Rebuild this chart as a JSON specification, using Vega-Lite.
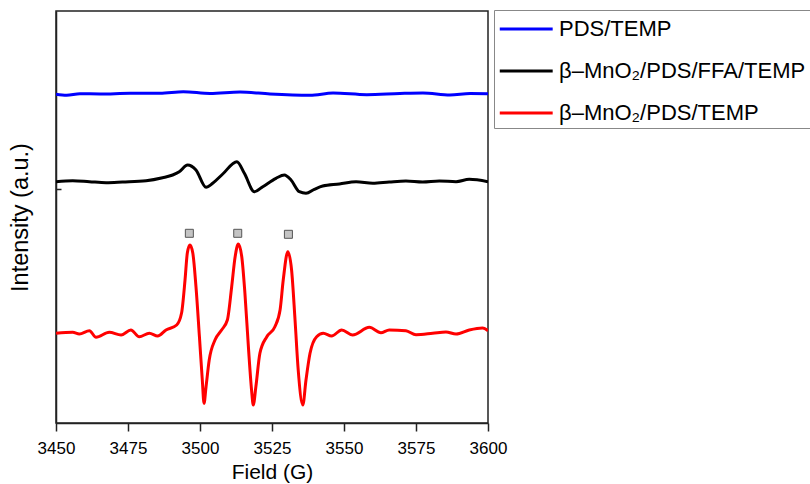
{
  "$schema": "https://vega.github.io/schema/vega-lite/v6.json",
  "width": 432,
  "height": 412,
  "autosize": {"type": "none"},
  "padding": {"left": 56, "top": 11, "right": 322, "bottom": 61},
  "background": "white",
  "config": {
    "view": {"stroke": "#222", "strokeWidth": 1.5},
    "font": "Liberation Sans"
  },
  "datasets": {
    "lines": [
      {"s": "PDS/TEMP", "x": 3450.0, "y": 328.7},
      {"s": "PDS/TEMP", "x": 3453.7, "y": 327.7},
      {"s": "PDS/TEMP", "x": 3458.3, "y": 329.3},
      {"s": "PDS/TEMP", "x": 3465.3, "y": 329.0},
      {"s": "PDS/TEMP", "x": 3475.7, "y": 329.7},
      {"s": "PDS/TEMP", "x": 3486.1, "y": 329.7},
      {"s": "PDS/TEMP", "x": 3494.2, "y": 331.3},
      {"s": "PDS/TEMP", "x": 3503.5, "y": 329.5},
      {"s": "PDS/TEMP", "x": 3513.9, "y": 331.0},
      {"s": "PDS/TEMP", "x": 3524.3, "y": 329.0},
      {"s": "PDS/TEMP", "x": 3538.2, "y": 327.7},
      {"s": "PDS/TEMP", "x": 3546.2, "y": 330.0},
      {"s": "PDS/TEMP", "x": 3557.9, "y": 328.3},
      {"s": "PDS/TEMP", "x": 3569.4, "y": 329.5},
      {"s": "PDS/TEMP", "x": 3577.4, "y": 330.0},
      {"s": "PDS/TEMP", "x": 3586.8, "y": 328.0},
      {"s": "PDS/TEMP", "x": 3593.8, "y": 329.5},
      {"s": "PDS/TEMP", "x": 3600.0, "y": 329.3},

      {"s": "β–MnO₂/PDS/FFA/TEMP", "x": 3450.0, "y": 241.3},
      {"s": "β–MnO₂/PDS/FFA/TEMP", "x": 3455.8, "y": 242.3},
      {"s": "β–MnO₂/PDS/FFA/TEMP", "x": 3461.6, "y": 241.3},
      {"s": "β–MnO₂/PDS/FFA/TEMP", "x": 3467.4, "y": 240.3},
      {"s": "β–MnO₂/PDS/FFA/TEMP", "x": 3473.1, "y": 241.0},
      {"s": "β–MnO₂/PDS/FFA/TEMP", "x": 3481.3, "y": 242.3},
      {"s": "β–MnO₂/PDS/FFA/TEMP", "x": 3487.0, "y": 245.3},
      {"s": "β–MnO₂/PDS/FFA/TEMP", "x": 3490.5, "y": 248.0},
      {"s": "β–MnO₂/PDS/FFA/TEMP", "x": 3492.8, "y": 251.3},
      {"s": "β–MnO₂/PDS/FFA/TEMP", "x": 3495.7, "y": 258.0},
      {"s": "β–MnO₂/PDS/FFA/TEMP", "x": 3498.6, "y": 253.0},
      {"s": "β–MnO₂/PDS/FFA/TEMP", "x": 3502.1, "y": 235.7},
      {"s": "β–MnO₂/PDS/FFA/TEMP", "x": 3504.4, "y": 239.7},
      {"s": "β–MnO₂/PDS/FFA/TEMP", "x": 3507.9, "y": 249.0},
      {"s": "β–MnO₂/PDS/FFA/TEMP", "x": 3512.8, "y": 261.3},
      {"s": "β–MnO₂/PDS/FFA/TEMP", "x": 3515.4, "y": 249.7},
      {"s": "β–MnO₂/PDS/FFA/TEMP", "x": 3518.9, "y": 231.3},
      {"s": "β–MnO₂/PDS/FFA/TEMP", "x": 3521.8, "y": 236.3},
      {"s": "β–MnO₂/PDS/FFA/TEMP", "x": 3526.4, "y": 244.7},
      {"s": "β–MnO₂/PDS/FFA/TEMP", "x": 3529.3, "y": 248.0},
      {"s": "β–MnO₂/PDS/FFA/TEMP", "x": 3531.6, "y": 243.0},
      {"s": "β–MnO₂/PDS/FFA/TEMP", "x": 3534.5, "y": 231.3},
      {"s": "β–MnO₂/PDS/FFA/TEMP", "x": 3536.8, "y": 229.7},
      {"s": "β–MnO₂/PDS/FFA/TEMP", "x": 3539.7, "y": 233.7},
      {"s": "β–MnO₂/PDS/FFA/TEMP", "x": 3542.6, "y": 237.0},
      {"s": "β–MnO₂/PDS/FFA/TEMP", "x": 3548.4, "y": 239.0},
      {"s": "β–MnO₂/PDS/FFA/TEMP", "x": 3554.2, "y": 241.3},
      {"s": "β–MnO₂/PDS/FFA/TEMP", "x": 3560.0, "y": 239.7},
      {"s": "β–MnO₂/PDS/FFA/TEMP", "x": 3565.7, "y": 241.0},
      {"s": "β–MnO₂/PDS/FFA/TEMP", "x": 3571.5, "y": 242.0},
      {"s": "β–MnO₂/PDS/FFA/TEMP", "x": 3577.3, "y": 241.0},
      {"s": "β–MnO₂/PDS/FFA/TEMP", "x": 3583.1, "y": 242.0},
      {"s": "β–MnO₂/PDS/FFA/TEMP", "x": 3588.9, "y": 241.3},
      {"s": "β–MnO₂/PDS/FFA/TEMP", "x": 3593.5, "y": 243.7},
      {"s": "β–MnO₂/PDS/FFA/TEMP", "x": 3600.0, "y": 241.3},

      {"s": "β–MnO₂/PDS/TEMP", "x": 3450.0, "y": 89.7},
      {"s": "β–MnO₂/PDS/TEMP", "x": 3455.8, "y": 90.7},
      {"s": "β–MnO₂/PDS/TEMP", "x": 3458.1, "y": 89.0},
      {"s": "β–MnO₂/PDS/TEMP", "x": 3461.6, "y": 92.3},
      {"s": "β–MnO₂/PDS/TEMP", "x": 3463.9, "y": 85.7},
      {"s": "β–MnO₂/PDS/TEMP", "x": 3468.5, "y": 90.7},
      {"s": "β–MnO₂/PDS/TEMP", "x": 3472.6, "y": 88.0},
      {"s": "β–MnO₂/PDS/TEMP", "x": 3476.0, "y": 93.0},
      {"s": "β–MnO₂/PDS/TEMP", "x": 3478.9, "y": 86.3},
      {"s": "β–MnO₂/PDS/TEMP", "x": 3482.4, "y": 89.7},
      {"s": "β–MnO₂/PDS/TEMP", "x": 3485.3, "y": 87.0},
      {"s": "β–MnO₂/PDS/TEMP", "x": 3488.2, "y": 93.0},
      {"s": "β–MnO₂/PDS/TEMP", "x": 3491.9, "y": 98.0},
      {"s": "β–MnO₂/PDS/TEMP", "x": 3493.6, "y": 110.0},
      {"s": "β–MnO₂/PDS/TEMP", "x": 3494.8, "y": 143.0},
      {"s": "β–MnO₂/PDS/TEMP", "x": 3495.6, "y": 170.0},
      {"s": "β–MnO₂/PDS/TEMP", "x": 3496.5, "y": 178.0},
      {"s": "β–MnO₂/PDS/TEMP", "x": 3497.5, "y": 170.0},
      {"s": "β–MnO₂/PDS/TEMP", "x": 3498.6, "y": 136.3},
      {"s": "β–MnO₂/PDS/TEMP", "x": 3499.8, "y": 86.3},
      {"s": "β–MnO₂/PDS/TEMP", "x": 3500.8, "y": 43.0},
      {"s": "β–MnO₂/PDS/TEMP", "x": 3501.4, "y": 19.7},
      {"s": "β–MnO₂/PDS/TEMP", "x": 3502.1, "y": 36.3},
      {"s": "β–MnO₂/PDS/TEMP", "x": 3503.2, "y": 63.0},
      {"s": "β–MnO₂/PDS/TEMP", "x": 3505.2, "y": 83.0},
      {"s": "β–MnO₂/PDS/TEMP", "x": 3507.5, "y": 93.0},
      {"s": "β–MnO₂/PDS/TEMP", "x": 3509.5, "y": 103.0},
      {"s": "β–MnO₂/PDS/TEMP", "x": 3511.0, "y": 136.3},
      {"s": "β–MnO₂/PDS/TEMP", "x": 3512.2, "y": 166.3},
      {"s": "β–MnO₂/PDS/TEMP", "x": 3513.3, "y": 179.0},
      {"s": "β–MnO₂/PDS/TEMP", "x": 3514.5, "y": 166.3},
      {"s": "β–MnO₂/PDS/TEMP", "x": 3515.6, "y": 129.7},
      {"s": "β–MnO₂/PDS/TEMP", "x": 3516.8, "y": 76.3},
      {"s": "β–MnO₂/PDS/TEMP", "x": 3517.9, "y": 33.0},
      {"s": "β–MnO₂/PDS/TEMP", "x": 3518.5, "y": 18.0},
      {"s": "β–MnO₂/PDS/TEMP", "x": 3519.4, "y": 36.3},
      {"s": "β–MnO₂/PDS/TEMP", "x": 3520.8, "y": 69.7},
      {"s": "β–MnO₂/PDS/TEMP", "x": 3523.2, "y": 86.3},
      {"s": "β–MnO₂/PDS/TEMP", "x": 3526.0, "y": 96.3},
      {"s": "β–MnO₂/PDS/TEMP", "x": 3527.8, "y": 113.0},
      {"s": "β–MnO₂/PDS/TEMP", "x": 3528.9, "y": 143.0},
      {"s": "β–MnO₂/PDS/TEMP", "x": 3530.5, "y": 171.3},
      {"s": "β–MnO₂/PDS/TEMP", "x": 3531.8, "y": 153.0},
      {"s": "β–MnO₂/PDS/TEMP", "x": 3533.0, "y": 103.0},
      {"s": "β–MnO₂/PDS/TEMP", "x": 3534.1, "y": 53.0},
      {"s": "β–MnO₂/PDS/TEMP", "x": 3535.7, "y": 18.0},
      {"s": "β–MnO₂/PDS/TEMP", "x": 3536.8, "y": 43.0},
      {"s": "β–MnO₂/PDS/TEMP", "x": 3538.2, "y": 69.7},
      {"s": "β–MnO₂/PDS/TEMP", "x": 3540.5, "y": 86.3},
      {"s": "β–MnO₂/PDS/TEMP", "x": 3542.8, "y": 89.7},
      {"s": "β–MnO₂/PDS/TEMP", "x": 3545.7, "y": 87.0},
      {"s": "β–MnO₂/PDS/TEMP", "x": 3549.2, "y": 93.0},
      {"s": "β–MnO₂/PDS/TEMP", "x": 3553.0, "y": 88.0},
      {"s": "β–MnO₂/PDS/TEMP", "x": 3558.8, "y": 95.7},
      {"s": "β–MnO₂/PDS/TEMP", "x": 3562.8, "y": 90.3},
      {"s": "β–MnO₂/PDS/TEMP", "x": 3565.7, "y": 93.0},
      {"s": "β–MnO₂/PDS/TEMP", "x": 3571.5, "y": 92.3},
      {"s": "β–MnO₂/PDS/TEMP", "x": 3575.0, "y": 88.3},
      {"s": "β–MnO₂/PDS/TEMP", "x": 3580.8, "y": 89.7},
      {"s": "β–MnO₂/PDS/TEMP", "x": 3585.4, "y": 91.0},
      {"s": "β–MnO₂/PDS/TEMP", "x": 3588.9, "y": 89.0},
      {"s": "β–MnO₂/PDS/TEMP", "x": 3593.5, "y": 93.0},
      {"s": "β–MnO₂/PDS/TEMP", "x": 3598.1, "y": 95.0},
      {"s": "β–MnO₂/PDS/TEMP", "x": 3600.0, "y": 92.3}
    ],
    "markers": [
      {"x": 3496.3, "y": 189.7},
      {"x": 3513.1, "y": 189.7},
      {"x": 3530.7, "y": 188.7}
    ]
  },
  "layer": [
    {
      "data": {"name": "lines"},
      "mark": {"type": "line", "strokeWidth": 3, "interpolate": "monotone", "clip": true},
      "encoding": {
        "x": {
          "field": "x", "type": "quantitative",
          "scale": {"domain": [3450, 3600], "nice": false, "zero": false},
          "axis": {
            "values": [3450, 3462.5, 3475, 3487.5, 3500, 3512.5, 3525, 3537.5, 3550, 3562.5, 3575, 3587.5, 3600],
            "labelExpr": "datum.value % 25 == 0 ? format(datum.value, 'd') : ''",
            "tickSize": {"condition": {"test": "datum.value % 25 != 0", "value": 4}, "value": 8},
            "grid": false,
            "domainColor": "#222", "domainWidth": 1.5,
            "tickColor": "#222", "tickWidth": 1.5,
            "labelFont": "Liberation Sans", "labelFontSize": 17, "labelColor": "#000",
            "labelPadding": 9, "labelFlush": false, "labelOverlap": false,
            "title": "Field (G)", "titleFont": "Liberation Sans", "titleFontSize": 21,
            "titleFontWeight": "normal", "titleColor": "#000", "titlePadding": 5
          }
        },
        "y": {
          "field": "y", "type": "quantitative",
          "scale": {"domain": [0, 412], "nice": false, "zero": false},
          "axis": {
            "values": [234],
            "labels": false,
            "tickSize": -5,
            "grid": false,
            "domainColor": "#222", "domainWidth": 1.5,
            "tickColor": "#222", "tickWidth": 1.5,
            "title": "Intensity (a.u.)", "titleFont": "Liberation Sans", "titleFontSize": 23.5,
            "titleFontWeight": "normal", "titleColor": "#000", "titlePadding": 23
          }
        },
        "color": {
          "field": "s", "type": "nominal",
          "scale": {
            "domain": ["PDS/TEMP", "β–MnO₂/PDS/FFA/TEMP", "β–MnO₂/PDS/TEMP"],
            "range": ["#0000ff", "#000000", "#ff0000"]
          },
          "legend": {
            "title": null,
            "orient": "none",
            "legendX": 438,
            "legendY": -1,
            "strokeColor": "#888",
            "fillColor": "white",
            "padding": 4,
            "symbolType": "M-1,0H3",
            "symbolSize": 700,
            "symbolStrokeWidth": 3,
            "symbolFillColor": "transparent",
            "labelFont": "Liberation Sans",
            "labelFontSize": 22,
            "labelColor": "#000",
            "labelLimit": 400,
            "labelOffset": 31,
            "rowPadding": 16
          }
        }
      }
    },
    {
      "data": {"name": "markers"},
      "mark": {"type": "square", "size": 64, "fill": "#c4c4c4", "stroke": "#555", "strokeWidth": 1, "opacity": 1},
      "encoding": {
        "x": {"field": "x", "type": "quantitative"},
        "y": {"field": "y", "type": "quantitative"}
      }
    }
  ]
}
